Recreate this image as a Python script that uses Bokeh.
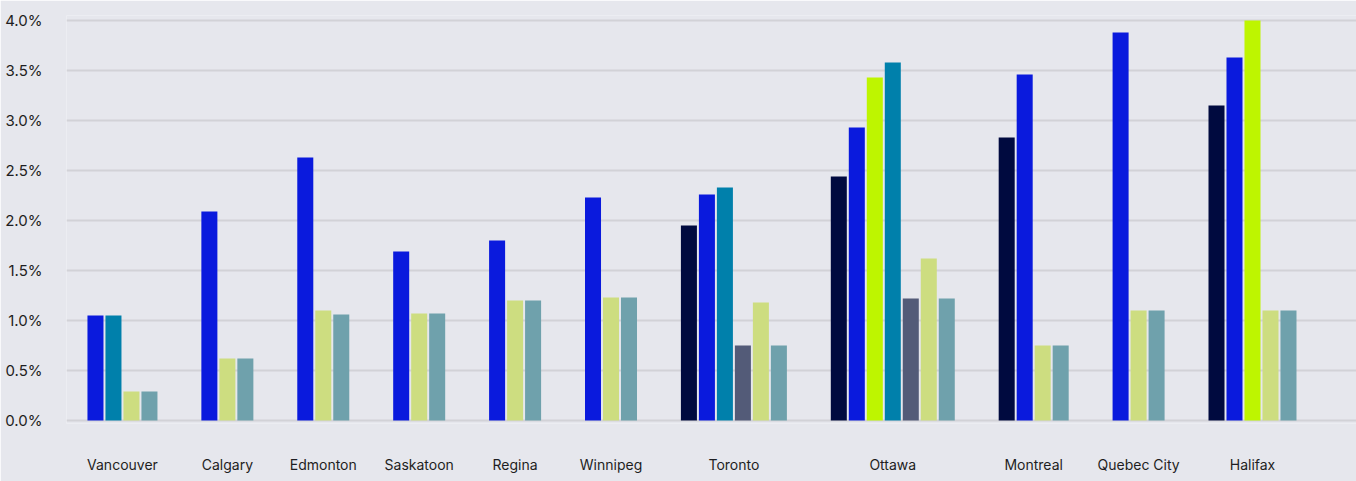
from bokeh.plotting import figure
from bokeh.models import ColumnDataSource, Range1d, FixedTicker, PrintfTickFormatter
from bokeh.embed import file_html
from bokeh.resources import INLINE

cities = ["Vancouver", "Calgary", "Edmonton", "Saskatoon", "Regina", "Winnipeg",
          "Toronto", "Ottawa", "Montreal", "Quebec City", "Halifax"]

series_1 = [None, None, None, None, None, None, 1.95, 2.44, 2.83, None, 3.15]
series_2 = [1.05, 2.09, 2.63, 1.69, 1.80, 2.23, 2.26, 2.93, 3.46, 3.88, 3.63]
series_3 = [None, None, None, None, None, None, None, 3.43, None, None, 4.00]
series_4 = [1.05, None, None, None, None, None, 2.33, 3.58, None, None, None]
series_5 = [None, None, None, None, None, None, 0.75, 1.22, None, None, None]
series_6 = [0.29, 0.62, 1.10, 1.07, 1.20, 1.23, 1.18, 1.62, 0.75, 1.10, 1.10]
series_7 = [0.29, 0.62, 1.06, 1.07, 1.20, 1.23, 0.75, 1.22, 0.75, 1.10, 1.10]

y_ticks = [0.0, 0.5, 1.0, 1.5, 2.0, 2.5, 3.0, 3.5, 4.0]

series = [series_1, series_2, series_3, series_4, series_5, series_6, series_7]
colors = ["#000A3F", "#0A1ADD", "#BEF500", "#0080AB", "#535B78", "#CDDD80", "#6FA1AC"]

GROUP_GAP = 2.33
xs, tops, cols = [], [], []
centers = []
pos = 0.0
for ci, city in enumerate(cities):
    present = [k for k in range(len(series)) if series[k][ci] is not None]
    for j, k in enumerate(present):
        xs.append(pos + j)
        tops.append(series[k][ci])
        cols.append(colors[k])
    n = len(present)
    centers.append(pos + (n - 1) / 2)
    pos += n - 1 + 1 + GROUP_GAP
last_center = pos - 1 - GROUP_GAP

src = ColumnDataSource(dict(x=xs, top=tops, color=cols))

p = figure(width=1356, height=481, output_backend="svg", toolbar_location=None,
           x_range=Range1d(-1.61, last_center + 3.78), y_range=Range1d(-0.03, 4.05),
           min_border_left=66, min_border_right=0, min_border_top=15, min_border_bottom=58)
p.background_fill_color = "#E6E7ED"
p.border_fill_color = "#E6E7ED"
p.outline_line_color = None

p.vbar(x="x", top="top", bottom=0, width=0.89, color="color", line_color=None, source=src)

p.xgrid.visible = False
p.ygrid.ticker = FixedTicker(ticks=y_ticks)
p.ygrid.grid_line_color = "#D2D2D7"
p.ygrid.grid_line_width = 2

p.yaxis.ticker = FixedTicker(ticks=y_ticks)
p.yaxis.formatter = PrintfTickFormatter(format="%.1f%%")
p.yaxis.axis_line_color = None
p.yaxis.major_tick_line_color = None
p.yaxis.minor_tick_line_color = None
p.yaxis.major_label_standoff = 18
p.yaxis.major_label_text_font = "Inter"
p.yaxis.major_label_text_font_size = "15px"
p.yaxis.major_label_text_color = "#1E1E22"

p.xaxis.ticker = FixedTicker(ticks=centers)
p.xaxis.major_label_overrides = {c: name for c, name in zip(centers, cities)}
p.xaxis.axis_line_color = None
p.xaxis.major_tick_line_color = None
p.xaxis.minor_tick_line_color = None
p.xaxis.major_label_standoff = 26
p.xaxis.major_label_text_font = "Inter"
p.xaxis.major_label_text_font_size = "14px"
p.xaxis.major_label_text_color = "#1E1E22"

open("out.html", "w").write(file_html(p, INLINE))
